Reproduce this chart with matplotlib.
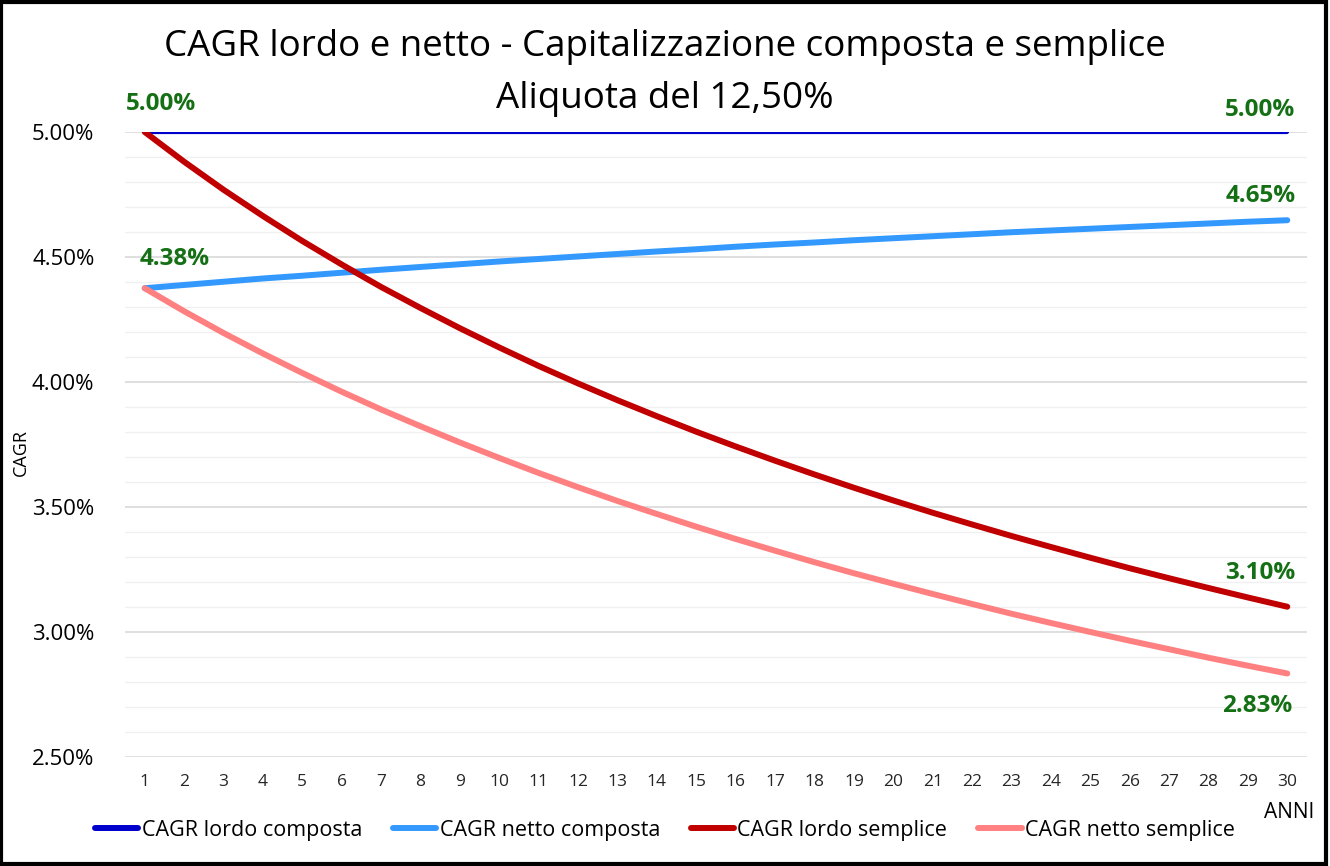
import matplotlib
matplotlib.use("Agg")
import matplotlib.pyplot as plt
from matplotlib.patches import Rectangle
from matplotlib.ticker import MultipleLocator, FuncFormatter

plt.rcParams['font.family'] = ['Open Sans', 'DejaVu Sans']

# ---------------- DATI ----------------
anni = list(range(1, 31))

# CAGR in percentuale
lordo_composta = [5.00] * 30
netto_composta = [4.375, 4.388, 4.401, 4.414, 4.425, 4.437, 4.449, 4.460, 4.471, 4.482,
                  4.492, 4.502, 4.512, 4.522, 4.531, 4.541, 4.550, 4.558, 4.567, 4.575,
                  4.583, 4.591, 4.599, 4.606, 4.613, 4.620, 4.627, 4.634, 4.641, 4.647]
lordo_semplice = [5.000, 4.881, 4.769, 4.664, 4.564, 4.470, 4.380, 4.296, 4.215, 4.138,
                  4.064, 3.994, 3.927, 3.863, 3.801, 3.742, 3.685, 3.630, 3.577, 3.526,
                  3.477, 3.430, 3.384, 3.340, 3.297, 3.255, 3.215, 3.176, 3.138, 3.101]
netto_semplice = [4.375, 4.283, 4.196, 4.114, 4.036, 3.961, 3.890, 3.823, 3.758, 3.696,
                  3.636, 3.579, 3.524, 3.472, 3.421, 3.372, 3.325, 3.279, 3.235, 3.193,
                  3.152, 3.112, 3.073, 3.036, 3.000, 2.965, 2.931, 2.897, 2.865, 2.834]

serie = ["CAGR lordo composta", "CAGR netto composta", "CAGR lordo semplice", "CAGR netto semplice"]

# etichette: (serie, indice anno, offset in pixel)
etichette = [
    (lordo_composta, 0, (16, 28)),
    (lordo_composta, 29, (-27, 22)),
    (netto_composta, 0, (30, 29)),
    (netto_composta, 29, (-27, 24)),
    (lordo_semplice, 29, (-27, 34)),
    (netto_semplice, 29, (-30, -33)),
]

# ---------------- GRAFICO ----------------
fig = plt.figure(figsize=(13.3, 8.66), dpi=100)
ax = fig.add_axes([0.094, 0.1259, 0.8887, 0.7217])

colori = ['#0000CC', '#3399FF', '#C00000', '#FF8080']
spessori = [3.0, 4.3, 4.3, 4.3]
dati = [lordo_composta, netto_composta, lordo_semplice, netto_semplice]

for y, c, lw, nome in zip(dati, colori, spessori, serie):
    ax.plot(anni, y, color=c, lw=lw, solid_capstyle='round', label=nome, zorder=3)

for y, i, off in etichette:
    ax.annotate(f"{y[i]:.2f}%", (anni[i], y[i]), xytext=off, textcoords='offset pixels',
                ha='center', va='center', fontsize=17.5, fontweight='bold', color='#157015')

ax.set_xlim(0.5, 30.5)
ax.set_ylim(2.5, 5.0)
ax.set_xticks(anni)
ax.yaxis.set_major_locator(MultipleLocator(0.5))
ax.yaxis.set_minor_locator(MultipleLocator(0.1))
ax.yaxis.set_major_formatter(FuncFormatter(lambda v, p: f"{v:.2f}%"))
ax.grid(axis='y', which='major', color='#D9D9D9', lw=1.2, zorder=0)
ax.grid(axis='y', which='minor', color='#F0F0F0', lw=1.0, zorder=0)
ax.set_axisbelow(True)
for s in ax.spines.values():
    s.set_visible(False)
ax.tick_params(axis='both', which='both', length=0)
ax.tick_params(axis='y', labelsize=16, pad=22)
ax.tick_params(axis='x', labelsize=12.5, pad=12, colors='#262626')

fig.text(0.016, 0.478, "CAGR", rotation=90, ha='center', va='center', fontsize=13)
fig.text(0.5, 0.946, "CAGR lordo e netto - Capitalizzazione composta e semplice",
         ha='center', va='center', fontsize=26.5)
fig.text(0.5, 0.886, "Aliquota del 12,50%", ha='center', va='center', fontsize=26.5)
fig.text(0.969, 0.062, "ANNI", ha='center', va='center', fontsize=15)

leg = fig.legend(loc='center', bbox_to_anchor=(0.5, 0.041), ncol=4, frameon=False,
                 fontsize=15.5, handlelength=2.0, handletextpad=0.15, columnspacing=1.45)
for h in leg.get_lines():
    h.set_linewidth(4.3)

fig.add_artist(Rectangle((0.001, 0.002), 0.996, 0.996, transform=fig.transFigure,
                         fill=False, edgecolor='black', lw=3))

fig.savefig("out.png", dpi=100)
